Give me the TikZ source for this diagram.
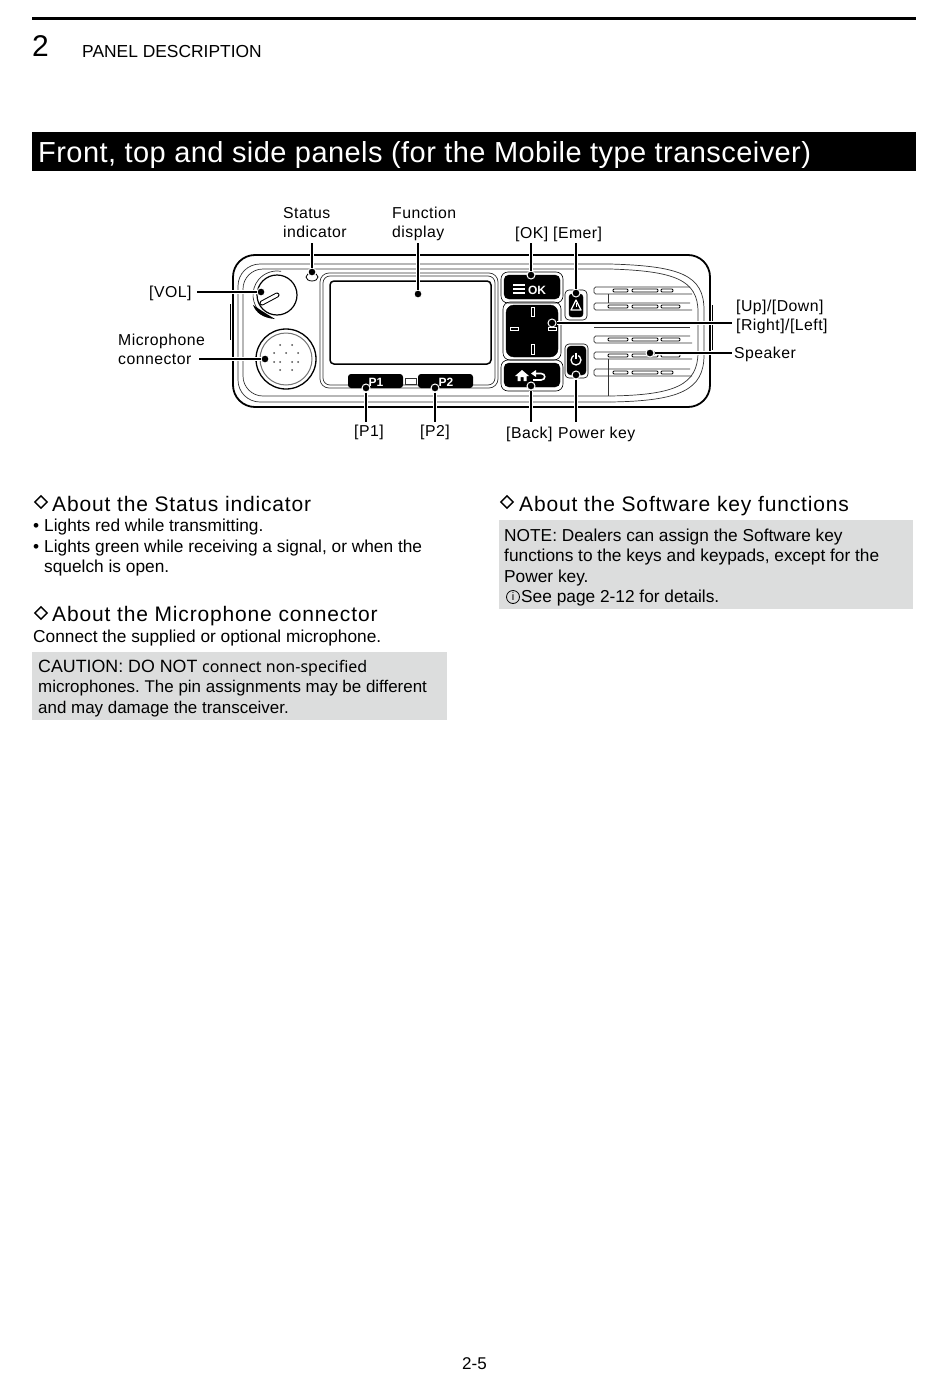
\documentclass[tikz,border=0pt]{standalone}
\usepackage{fontspec}
\setmainfont{Liberation Sans}
\newfontfamily\lblfont[LetterSpace=3]{Liberation Sans}
\newfontfamily\headfont[LetterSpace=4]{Liberation Sans}
\newfontfamily\titlefont[LetterSpace=1.5]{Liberation Sans}
\newfontfamily\cautfont{Noto Sans}
\usetikzlibrary{calc,positioning,shapes.geometric}
\definecolor{noteGris}{HTML}{DCDDDD}

\begin{document}
\frenchspacing
\begin{tikzpicture}[x=1pt,y=-1pt,
      lbl/.style={inner sep=0pt, align=left, anchor=base west,
                  font=\lblfont\fontsize{15.8}{19}\selectfont},
      head/.style={inner sep=0pt, anchor=base west,
                   font=\headfont\fontsize{21}{24}\selectfont},
      body/.style={inner sep=0pt, align=left, anchor=base west,
                   font=\fontsize{17.3}{20.5}\selectfont},
      leaddot/.style={circle, fill=black, draw=white, line width=1pt,
                      minimum size=8pt, inner sep=0pt},
      lead/.style={line width=1.6pt, preaction={draw=white, line width=3.5pt}},
      keyblk/.style={fill=black, draw=black, rounded corners=5pt},
      keyrim/.style={draw=black, line width=0.6pt, rounded corners=7pt},
      keytxt/.style={inner sep=0pt, anchor=base, text=white,
                     font=\bfseries\fontsize{12}{12}\selectfont},
      wht/.style={draw=white, line width=1.3pt},
      slot/.style={draw=black, line width=0.9pt, fill=white, rounded corners=1pt},
      thinl/.style={draw=black!80, line width=0.7pt},
      tick/.style={diamond, draw=black, line width=1.4pt, minimum size=13pt, inner sep=0pt},
      notebox/.style={fill=noteGris}]
    \useasboundingbox (0,0) rectangle (950,1378);

    % page head
    \draw[line width=2.5pt] (32,18.5) -- (916,18.5);
    \node[inner sep=0pt, anchor=base west, font=\fontsize{30}{30}\selectfont] (pgnum) at (32,57) {2};
    \node[inner sep=0pt, anchor=base west, font=\fontsize{17.4}{20}\selectfont] (chap) at (82,58) {PANEL DESCRIPTION};
    \fill (32,132) rectangle (916,171);
    \node[inner sep=0pt, anchor=base west, text=white, font=\titlefont\fontsize{29}{30}\selectfont] (title) at (38,162)
      {Front, top and side panels (for the Mobile type transceiver)};

    % radio body
    \draw[line width=1.8pt, rounded corners=22pt] (233,255) rectangle (710,407);
    \draw[thinl, rounded corners=22pt] (610,264) -- (238,264) -- (238,402) -- (610,402);
    \draw[thinl, rounded corners=20pt] (610,269) -- (243,269) -- (243,396) -- (610,396);
    \draw[thinl] (610,264) .. controls (680,266) and (704,275) .. (704,310)
      -- (704,355) .. controls (704,390) and (680,401) .. (610,402);
    \draw[thinl] (610,269) .. controls (675,271) and (698,280) .. (698,312)
      -- (698,352) .. controls (698,385) and (675,395) .. (610,396);
    \draw[line width=1pt] (230,304) -- (230,340);
    \draw[line width=1pt] (712,305) -- (712,350);
    \draw[thinl, rounded corners=9pt] (320,273) rectangle (498,388);
    \draw[thinl, rounded corners=7pt] (323,276) rectangle (495,385);
    \draw[line width=1.5pt, rounded corners=4pt] (330,281) rectangle (491,364);
    % knob, led, connector
    \draw[line width=0.8pt] (312,277) ellipse (6 and 4);
    \draw[line width=1.2pt] (277,295) circle (20);
    \draw[thinl] (277,295) ++(130:24) arc[start angle=130, end angle=280, radius=24];
    \fill (253,305) .. controls (256,313) and (263,318) .. (275,319)
      .. controls (265,313) and (259,309) .. (253,305);
    \draw[line width=5pt, line cap=round] (262,303) -- (277,295);
    \draw[white, line width=3pt, line cap=round] (262,303) -- (277,295);
    \draw[line width=1.3pt] (286,359) circle (30);
    \draw[black!55, line width=1pt] (286,359) circle (26);
    \foreach \px/\py in {-6/-14, 6/-14, -12/-6, 0/-6, 12/-6, -12/3, -6/3, 6/3, 12/3, -6/11, 6/11}
      \fill[black!70] (286+\px,359+\py) circle (1);

    % soft keys
    \fill[rounded corners=3pt] (348,374) rectangle (403,388);
    \fill[rounded corners=3pt] (418,374) rectangle (473,388);
    \draw[thinl] (405,378) rectangle (416,384);
    \node[keytxt] (tP1) at (376,386) {P1};
    \node[keytxt] (tP2) at (446,386) {P2};

    % keypad
    \draw[keyrim] (501,272) rectangle (563,303);
    \filldraw[keyblk] (504,275) rectangle (560,299);
    \draw[keyrim] (503,302) rectangle (561,360);
    \filldraw[keyblk, rounded corners=8pt] (506,305) rectangle (558,357);
    \draw[keyrim] (501,360) rectangle (563,391);
    \filldraw[keyblk] (504,363) rectangle (560,387);
    \draw[keyrim, rounded corners=4pt] (565,290) rectangle (587,320);
    \filldraw[keyblk, rounded corners=3pt] (569,294) rectangle (583,317);
    \draw[keyrim, rounded corners=4pt] (565,344) rectangle (588,378);
    \filldraw[keyblk, rounded corners=4pt] (567,346) rectangle (586,375);
    \foreach \ly in {285,289,293}
      \draw[wht] (513,\ly) -- (525,\ly);
    \node[keytxt] (tOK) at (537,294) {OK};
    \foreach \mx/\my/\mw/\mh in {533/312/3/9, 533/349/3/10, 514/329/8/3, 552/329/8/3}
      \draw[white, line width=0.7pt] (\mx-\mw/2,\my-\mh/2) rectangle (\mx+\mw/2,\my+\mh/2);
    \fill[white] (515,376) -- (522,370) -- (529,376) -- (526.5,376) -- (526.5,381)
      -- (523.5,381) -- (523.5,377) -- (520.5,377) -- (520.5,381) -- (517.5,381) -- (517.5,376) -- cycle;
    \draw[wht, line width=1.6pt] (535,373.5) -- (541,373.5) .. controls (546,373.5) and (546,380) .. (541,380) -- (533,380);
    \fill[white] (531,373.5) -- (536,370) -- (536,377) -- cycle;
    \draw[wht, line join=round] (576,300) -- (581,310) -- (571,310) -- cycle;
    \draw[white, line width=1pt] (576,303) -- (576,307);
    \draw[wht] (576,360) circle (5);
    \draw[black, line width=3.5pt] (576,352) -- (576,357);
    \draw[wht] (576,352.5) -- (576,359);

    % speaker slats
    \foreach \ry/\xa/\xb in {287/613/673, 303/608/680, 336/608/680, 352/608/680, 369/613/673} {
      \draw[thinl, rounded corners=1.5pt] (690,\ry) -- (594,\ry) -- (594,\ry+7) -- (692,\ry+7);
      \draw[slot] (\xa,\ry+2) rectangle (628,\ry+5);
      \draw[slot] (632,\ry+2) rectangle (658,\ry+5);
      \draw[slot] (661,\ry+2) rectangle (\xb,\ry+5);
    }
    \draw[thinl] (594,327) -- (690,327);
    \draw[thinl] (608,294) -- (608,303);
    \draw[thinl] (608,359) -- (608,396);

    % dots on the panel
    \node[leaddot] (dStatus) at (312,272) {};
    \node[leaddot] (dFunc) at (418,294) {};
    \node[leaddot] (dOK) at (531,275) {};
    \node[leaddot] (dEmer) at (576,293) {};
    \node[leaddot] (dVol) at (261,292) {};
    \node[leaddot] (dMic) at (265,359) {};
    \node[leaddot] (dPad) at (552,323) {};
    \node[leaddot] (dSpk) at (650,353) {};
    \node[leaddot] (dP1) at (366,388) {};
    \node[leaddot] (dP2) at (435,388) {};
    \node[leaddot] (dBack) at (531,386) {};
    \node[leaddot] (dPower) at (576,375) {};

    % labels
    \node[lbl] (lStatus) at (283,237) {Status\\indicator};
    \node[lbl] (lFunc) at (392,237) {Function\\display};
    \node[lbl] (lOK) at (515,238) {[OK]};
    \node[lbl] (lEmer) at (553,238) {[Emer]};
    \node[lbl] (lVol) at (149,297) {[VOL]};
    \node[lbl] (lMic) at (118,364) {Microphone\\connector};
    \node[lbl] (lPad) at (736,330) {[Up]/[Down]\\{[Right]/[Left]}};
    \node[lbl] (lSpk) at (734,358) {Speaker};
    \node[lbl] (lP1) at (354,436) {[P1]};
    \node[lbl] (lP2) at (420,436) {[P2]};
    \node[lbl] (lBack) at (506,438) {[Back]};
    \node[lbl] (lPower) at (558,438) {Power key};

    % leaders
    \draw[lead] (dStatus) -- (dStatus |- 0,243);
    \draw[lead] (dFunc) -- (dFunc |- 0,243);
    \draw[lead] (dOK) -- (dOK |- 0,243);
    \draw[lead] (dEmer) -- (dEmer |- 0,243);
    \draw[lead] (dVol) -- ([xshift=5pt]lVol.east |- dVol);
    \draw[lead] (dMic) -- ([xshift=-6pt]lMic.east |- dMic);
    \draw[lead] (dPad) -- ([xshift=-4pt]lPad.west |- dPad);
    \draw[lead] (dSpk) -- ([xshift=-2pt]lSpk.west |- dSpk);
    \draw[lead] (dP1) -- (dP1 |- 0,422);
    \draw[lead] (dP2) -- (dP2 |- 0,422);
    \draw[lead] (dBack) -- (dBack |- 0,422);
    \draw[lead] (dPower) -- (dPower |- 0,422);

    % left column
    \node[tick] (k1) at (41,502) {};
    \node[head] (h1) at (52,511) {About the Status indicator};
    \node[body] (b1) at (33,572.5) {\makebox[11pt][l]{•}Lights red while transmitting.\\
      \makebox[11pt][l]{•}Lights green while receiving a signal, or when the\\
      \hspace*{11pt}squelch is open.};
    \node[tick] (k2) at (41,613) {};
    \node[head] (h2) at (52,621) {About the Microphone connector};
    \node[body] (b2) at (33,642) {Connect the supplied or optional microphone.};
    \path[notebox] (32,652) rectangle (447,720);
    \node[body, font=\fontsize{16.95}{20.5}\selectfont] (n1) at (38,713) {{\fontsize{17.8}{20.5}\selectfont CAUTION: DO NOT} {\cautfont\fontsize{16}{20.5}\selectfont connect non-specified}\\
      microphones. The pin assignments may be different\\
      and may damage the transceiver.};

    % right column
    \node[tick] (k3) at (507,502) {};
    \node[head] (h3) at (519,511) {About the Software key functions};
    \path[notebox] (499,520) rectangle (913,609);
    \node[body] (n2) at (504,602.5) {NOTE: Dealers can assign the Software key\\
      functions to the keys and keypads, except for the\\
      Power key.\\
      \hspace*{17pt}See page 2-12 for details.};
    \node[circle, draw=black, line width=0.8pt, minimum size=13pt, inner sep=0pt,
          font=\fontsize{11}{11}\selectfont] (info) at (513,597) {i};

    \node[inner sep=0pt, anchor=base, font=\fontsize{17}{20}\selectfont] (folio) at (474.5,1369) {2-5};
  \end{tikzpicture}
\end{document}
